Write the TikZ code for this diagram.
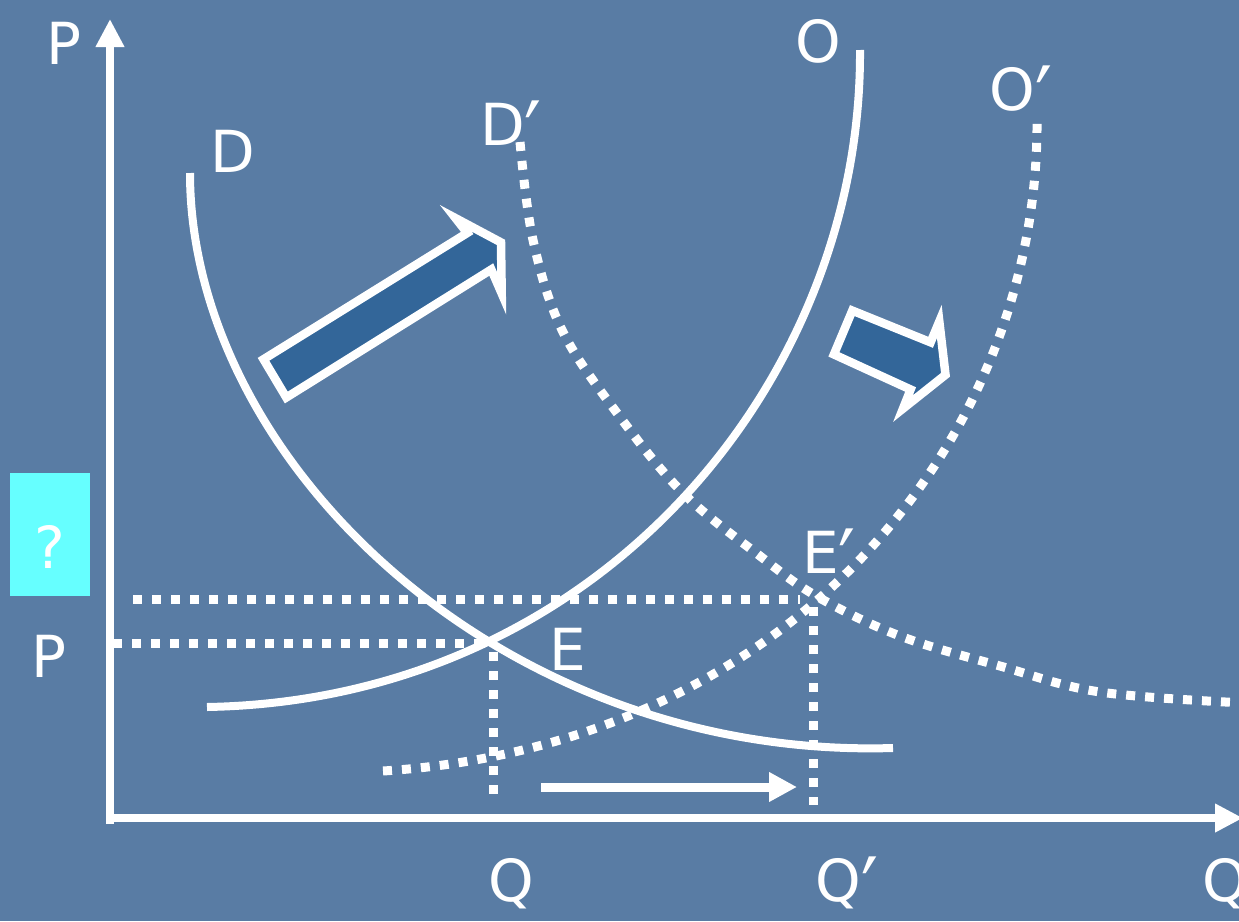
\documentclass[tikz,border=0pt]{standalone}
\usepackage{fontspec}
\setmainfont{DejaVu Sans}
\usetikzlibrary{arrows.meta}
\definecolor{bg}{RGB}{89,124,164}
\definecolor{arrowfill}{RGB}{51,102,153}
\definecolor{qbox}{RGB}{102,255,255}
\newcommand\prm{\raisebox{-0.4em}{\scalebox{1.3}[1.6]{′}}}
\begin{document}
\begin{tikzpicture}[x=1pt,y=-1pt,
  lbl/.style={text=white,font=\fontsize{58}{70}\selectfont,inner sep=0pt,anchor=base},
  curve/.style={white,line width=8pt},
  dots/.style={white,line width=9pt,dash pattern=on 9pt off 10pt},
  axisline/.style={white,line width=8.5pt,-{Triangle[length=28pt,width=27pt]}},
  shiftarrow/.style={white,line width=9pt,-{Triangle[length=28pt,width=28pt]}},
  block/.style={draw=white,line width=8.5pt,fill=arrowfill,line join=miter,miter limit=20}]
\fill[bg] (0,0) rectangle (1239,921);
\useasboundingbox (0,0) rectangle (1239,921);

% axes
\coordinate (ybot) at (110,824);
\coordinate (ytop) at (110,19);
\coordinate (xleft) at (106,818);
\coordinate (xright) at (1243,818);
\draw[axisline] (ybot) -- (ytop);
\draw[axisline] (xleft) -- (xright);

% dotted guide lines
\coordinate (pl) at (113,643);
\coordinate (pu) at (133,599);
\coordinate (qb) at (493,800);
\coordinate (qpb) at (813,805);
\draw[dots] (pu) -- (800,599);
\draw[dots] (pl) -- (485,643);
\draw[dots] (493,652) -- (qb);
\draw[dots] (813,607) -- (qpb);

% D curve
\draw[curve] (190,173) .. controls (190,460) and (500,760) .. (893,748);
% O curve
\draw[curve] (207,707) .. controls (600,700) and (862,380) .. (860,50);
% O' curve
\draw[dots] (383,771) .. controls (790,745) and (1040,440) .. (1037,118);
% D' curve
\draw[dots] plot[smooth,tension=0.6] coordinates {(520,142) (533,240) (562,330) (617,413) (683,493) (760,556) (818,597) (900,636) (1000,666) (1100,692) (1245,703)};

% shift arrow
\coordinate (sa) at (541,787);
\coordinate (sb) at (797,787);
\draw[shiftarrow] (sa) -- (sb);

% block arrows
\draw[block] (263.5,359.3) -- (467.2,233) -- (455.6,218.2) -- (501,242.4) -- (501.7,293.5) -- (491.3,269.5) -- (286.3,397.5) -- cycle;
\draw[block] (852.3,310.6) -- (930.6,342.3) -- (939.3,321.5) -- (945.5,374.8) -- (903,408.6) -- (910.6,389.5) -- (833.9,354.4) -- cycle;

% question box
\fill[qbox] (10,473) rectangle (90,596);
\node[lbl] (qm) at (50,568) {?};

% labels
\node[lbl] (Ptop) at (64,64) {P};
\node[lbl] (Plow) at (49,677) {P};
\node[lbl] (Dl) at (233,172) {D};
\node[lbl] (Dpl) at (511,145) {D\prm};
\node[lbl] (Ol) at (818,62) {O};
\node[lbl] (Opl) at (1021,110) {O\prm};
\node[lbl] (El) at (568,670) {E};
\node[lbl] (Epl) at (829,573) {E\prm};
\node[lbl] (Ql) at (511,901) {Q};
\node[lbl] (Qpl) at (847,901) {Q\prm};
\node[lbl] (Qax) at (1225,901) {Q};
\end{tikzpicture}
\end{document}
